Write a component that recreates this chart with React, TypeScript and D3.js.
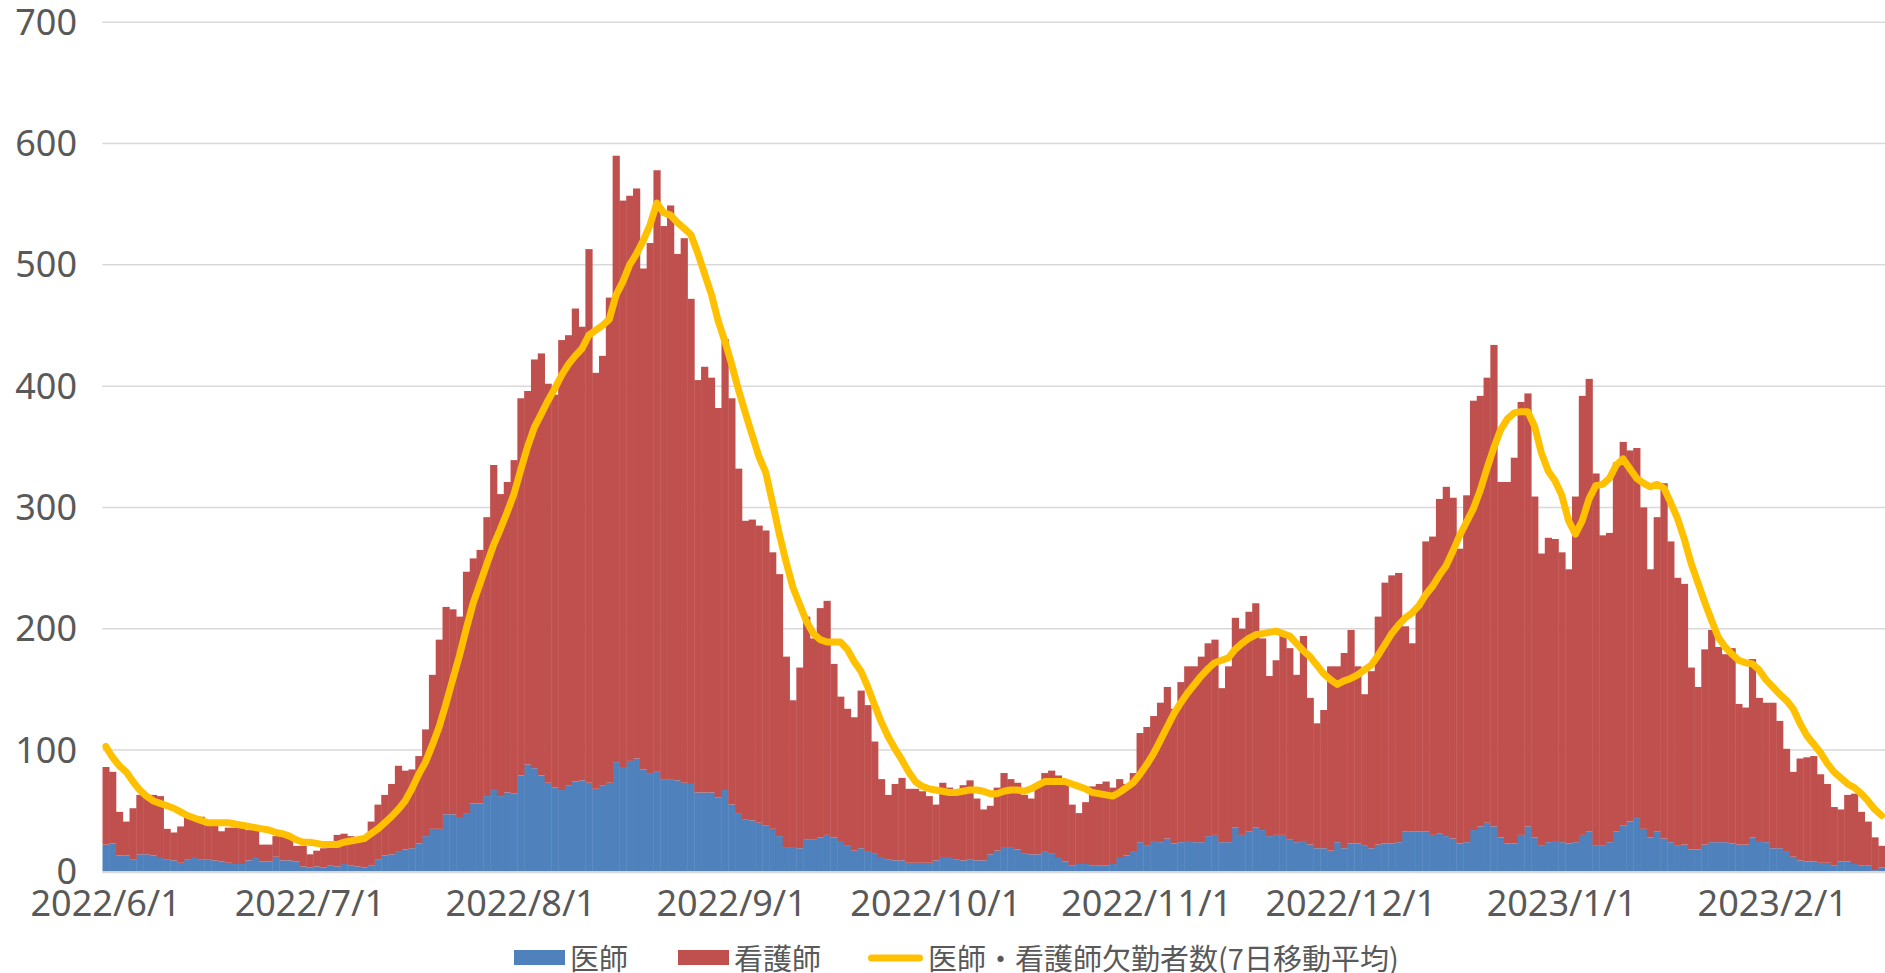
import React from 'react';
import * as d3 from 'd3';

// 医師 (blue) per day, from 2022/6/1
const DOCTORS = [
  22, 23, 13, 13, 10, 14, 14, 13, 11, 10,
  9, 7, 10, 11, 10, 10, 9, 8, 7, 6,
  6, 9, 11, 8, 8, 12, 9, 9, 8, 4,
  3, 4, 3, 5, 4, 6, 5, 4, 3, 5,
  10, 13, 14, 16, 18, 19, 23, 29, 35, 35,
  47, 47, 44, 48, 56, 56, 62, 67, 62, 65,
  64, 79, 88, 85, 79, 73, 69, 67, 71, 74,
  75, 73, 68, 71, 73, 90, 86, 91, 93, 84,
  81, 82, 76, 76, 75, 73, 72, 65, 65, 65,
  61, 67, 55, 48, 43, 42, 40, 38, 35, 29,
  20, 20, 19, 26, 26, 28, 30, 28, 25, 21,
  17, 19, 16, 15, 11, 10, 9, 9, 7, 7,
  7, 7, 9, 11, 11, 10, 9, 10, 9, 9,
  14, 17, 20, 20, 18, 15, 14, 14, 16,
  15, 11, 8, 5, 6, 6, 5, 5, 5, 6,
  11, 13, 16, 24, 21, 25, 24, 27, 23, 24,
  25, 24, 24, 29, 30, 24, 24, 36, 30, 33,
  36, 34, 29, 30, 30, 26, 24, 25, 22, 19,
  19, 17, 24, 19, 23, 23, 21, 19, 22, 23,
  23, 24, 33, 33, 33, 33, 30, 31, 29, 27,
  23, 24, 34, 37, 40, 37, 28, 23, 23, 30,
  37, 28, 21, 24, 25, 24, 23, 24, 30, 33,
  21, 21, 24, 33, 38, 41, 44, 35, 28, 33,
  27, 24, 21, 22, 18, 18, 22, 24, 24, 24,
  23, 22, 22, 28, 25, 24, 19, 19, 16, 12,
  9, 8, 8, 7, 7, 5, 8, 8, 6, 5,
  5, 1, 3,
];

// 看護師 (red) per day
const NURSES = [
  64, 59, 36, 28, 42, 49, 49, 50, 51, 25,
  23, 30, 35, 34, 35, 28, 29, 25, 29, 30,
  30, 25, 23, 14, 14, 17, 20, 20, 13, 17,
  11, 13, 16, 15, 26, 25, 24, 23, 24, 36,
  45, 50, 58, 71, 65, 65, 72, 88, 127, 156,
  171, 169, 166, 199, 202, 209, 230, 268, 249, 256,
  275, 311, 308, 337, 348, 329, 324, 371, 371, 390,
  374, 440, 343, 354, 400, 500, 467, 466, 470, 413,
  437, 496, 456, 473, 434, 449, 400, 340, 351, 342,
  321, 372, 335, 284, 246, 248, 245, 243, 228, 216,
  157, 121, 149, 184, 166, 189, 193, 143, 119, 113,
  110, 130, 121, 92, 65, 53, 63, 68, 61, 61,
  59, 55, 46, 62, 58, 57, 62, 65, 51, 42,
  40, 52, 61, 56, 55, 48, 46, 58, 65,
  68, 68, 66, 50, 42, 51, 65, 67, 69, 63,
  65, 59, 65, 90, 98, 103, 115, 125, 111, 132,
  144, 145, 153, 159, 161, 127, 145, 173, 170, 181,
  185, 158, 132, 144, 164, 158, 138, 169, 121, 103,
  114, 152, 145, 161, 176, 146, 125, 146, 188, 215,
  221, 222, 169, 155, 185, 239, 246, 276, 288, 281,
  243, 286, 354, 355, 367, 397, 293, 298, 318, 357,
  357, 281, 241, 251, 249, 239, 226, 285, 362, 373,
  307, 256, 255, 304, 316, 306, 305, 265, 221, 259,
  293, 248, 221, 215, 150, 134, 161, 175, 161, 155,
  161, 116, 113, 147, 118, 115, 120, 105, 85, 70,
  84, 86, 87, 73, 65, 48, 43, 55, 58, 44,
  36, 27, 18,
];

// 医師・看護師欠勤者数 (7日移動平均)
const MOVING_AVG = [
  103, 94, 87, 82, 74, 67, 62, 58, 56, 54,
  52, 49, 46, 44, 42, 40, 40, 40, 40, 39,
  38, 37, 36, 35, 34, 32, 31, 29, 26, 24,
  24, 23, 22, 22, 22, 24, 25, 26, 27, 31,
  35, 40, 45, 51, 58, 68, 80, 90, 104, 119,
  138, 158, 178, 200, 221, 237, 253, 269, 282, 296,
  311, 331, 350, 366, 377, 388, 398, 409, 418, 425,
  431, 442, 446, 450, 455, 475, 486, 500, 509, 520,
  533, 551, 543, 541, 535, 530, 525, 510, 493, 476,
  454, 437, 418, 397, 378, 360, 342, 329, 304, 278,
  255, 234, 220, 206, 196, 191, 189, 189, 189, 183,
  173, 165, 152, 137, 123, 111, 101, 92, 82, 74,
  70, 68, 67, 66, 65, 65, 66, 67, 67, 66,
  64, 64, 66, 67, 67, 66, 68, 71, 74,
  74, 74, 74, 72, 70, 68, 65, 64, 63, 62,
  65, 69, 73, 80, 88, 97, 108, 119, 130, 139,
  147, 154, 161, 167, 172, 174, 176, 183, 188, 192,
  195, 196, 197, 198, 196, 194, 188, 182, 177, 170,
  163, 158, 154, 157, 159, 162, 166, 170, 178, 187,
  196, 203, 209, 213, 219, 228, 235, 244, 252, 264,
  277, 288, 299, 314, 332, 349, 364, 373, 378, 379,
  379, 367, 345, 330, 322, 310, 289, 278, 289, 307,
  318, 319, 324, 335, 340, 332, 324, 320, 317, 319,
  316, 304, 291, 274, 254, 238, 222, 207, 193, 185,
  179, 174, 172, 171, 166, 158, 152, 146, 141, 134,
  122, 112, 105, 98, 89, 82, 77, 72, 69, 64,
  58, 51, 46,
];

const START_DATE = new Date(2022, 5, 1);
const TICK_LABELS = [
  '2022/6/1', '2022/7/1', '2022/8/1', '2022/9/1', '2022/10/1',
  '2022/11/1', '2022/12/1', '2023/1/1', '2023/2/1',
];
const Y_TICKS = [0, 100, 200, 300, 400, 500, 600, 700];

const LEGEND = [
  { label: '医師', color: '#4F81BD', type: 'rect' },
  { label: '看護師', color: '#C0504D', type: 'rect' },
  { label: '医師・看護師欠勤者数(7日移動平均)', color: '#FFC000', type: 'line' },
];

const W = 1885;
const H = 973;
const PLOT_LEFT = 102.3;
const PLOT_RIGHT = 1885;

export default function App() {
  const days = d3.timeDay.range(START_DATE, d3.timeDay.offset(START_DATE, DOCTORS.length));
  const fmt = d3.timeFormat('%Y/%-m/%-d');

  const x = d3.scaleBand<number>()
    .domain(d3.range(days.length))
    .range([PLOT_LEFT, PLOT_RIGHT])
    .padding(0);
  const y = d3.scaleLinear().domain([0, 700]).range([871.3, 22.3]);

  const line = d3.line<number>()
    .x((_, i) => (x(i) as number) + x.bandwidth() / 2)
    .y(d => y(d));

  const ticks = TICK_LABELS.map(label => ({
    label,
    index: days.findIndex(d => fmt(d) === label),
  })).filter(t => t.index >= 0);

  const axisFont = '"Noto Sans", "DejaVu Sans", sans-serif';
  const cjkFont = '"Noto Sans CJK JP", "Noto Sans", sans-serif';

  // legend layout
  const legendY = 957;
  const legendX = [514, 678, 868];

  return (
    <div style={{ position: 'absolute', left: 0, top: 0 }}>
      <svg width={W} height={H} style={{ display: 'block', background: '#fff' }}>
        <defs>
          <clipPath id="plot">
            <rect x={PLOT_LEFT} y={0} width={PLOT_RIGHT - PLOT_LEFT} height={H} />
          </clipPath>
        </defs>

        {/* gridlines */}
        {Y_TICKS.filter(t => t > 0).map(t => (
          <line key={t} x1={PLOT_LEFT} x2={PLOT_RIGHT} y1={y(t)} y2={y(t)}
            stroke="#D9D9D9" strokeWidth={1.5} />
        ))}

        <g clipPath="url(#plot)">
          {/* stacked bars */}
          {DOCTORS.map((v, i) => (
            <rect key={'d' + i} x={x(i)} width={x.bandwidth() + 0.4}
              y={y(v)} height={y(0) - y(v)} fill="#4F81BD" />
          ))}
          {NURSES.map((v, i) => (
            <rect key={'n' + i} x={x(i)} width={x.bandwidth() + 0.4}
              y={y(DOCTORS[i] + v)} height={y(DOCTORS[i]) - y(DOCTORS[i] + v)} fill="#C0504D" />
          ))}
        </g>

        {/* x axis line */}
        <line x1={PLOT_LEFT} x2={PLOT_RIGHT} y1={y(0) + 1} y2={y(0) + 1} stroke="#D9D9D9" strokeWidth={2} />

        <g clipPath="url(#plot)">
          <path d={line(MOVING_AVG) || ''} fill="none" stroke="#FFC000" strokeWidth={7}
            strokeLinejoin="round" strokeLinecap="round" />
        </g>

        {/* y labels */}
        {Y_TICKS.map(t => (
          <text key={t} x={77} y={y(t) + 12.5} textAnchor="end" fontSize={36}
            fontFamily={axisFont} fill="#595959">{t}</text>
        ))}

        {/* x labels */}
        {ticks.map(t => (
          <text key={t.label} x={(x(t.index) as number) + x.bandwidth() / 2} y={916}
            textAnchor="middle" fontSize={36} fontFamily={axisFont} fill="#595959">{t.label}</text>
        ))}

        {/* legend */}
        {LEGEND.map((item, i) => (
          <g key={item.label} transform={`translate(${legendX[i]},${legendY})`}>
            {item.type === 'rect'
              ? <rect x={0} y={-7} width={51} height={15} fill={item.color} />
              : <line x1={3.5} x2={51.5} y1={1} y2={1} stroke={item.color} strokeWidth={7} strokeLinecap="round" />}
            <text x={item.type === 'rect' ? 56 : 60} y={0} dominantBaseline="central" fontSize={29}
              fontFamily={cjkFont} fill="#595959">{item.label}</text>
          </g>
        ))}
      </svg>
    </div>
  );
}
